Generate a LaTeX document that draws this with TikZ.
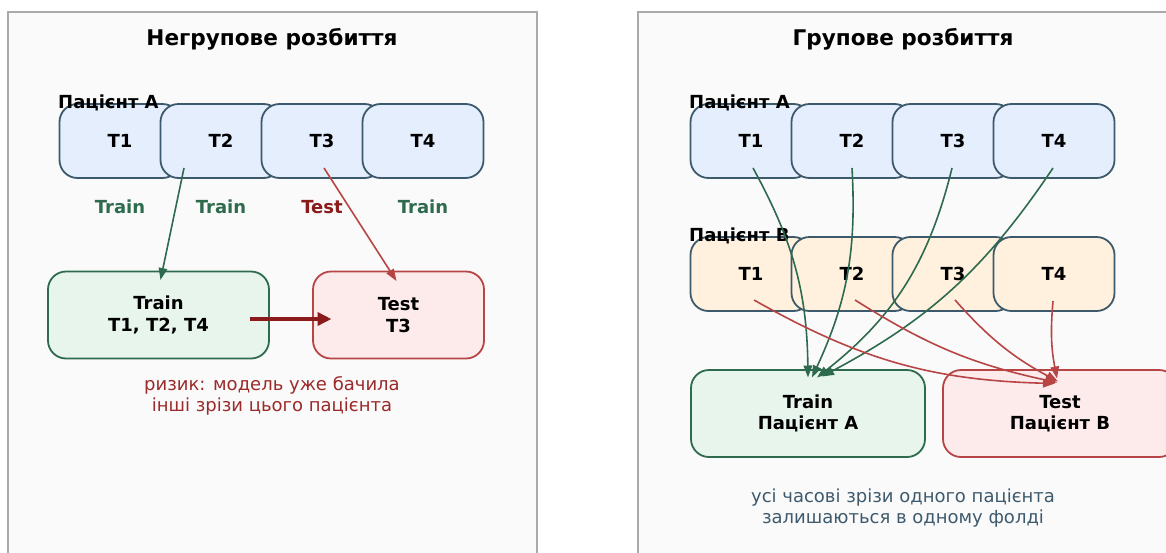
\documentclass[tikz,border=0pt]{standalone}
\usepackage{fontspec}
\setmainfont{DejaVu Sans}
\usetikzlibrary{arrows.meta,calc}

\definecolor{panelgray}{HTML}{AAAAAA}
\definecolor{panelbg}{HTML}{FAFAFA}
\definecolor{slate}{HTML}{3D5A6C}
\definecolor{bluefill}{HTML}{E4EEFD}
\definecolor{orangefill}{HTML}{FFF1DE}
\definecolor{greenline}{HTML}{2E6B4E}
\definecolor{greenfill}{HTML}{E8F5EC}
\definecolor{redline}{HTML}{B84545}
\definecolor{redfill}{HTML}{FDEAEA}
\definecolor{darkred}{HTML}{8B1A1A}
\definecolor{notered}{HTML}{9B2A2A}
\definecolor{noteslate}{HTML}{3E5A6C}

\tikzset{
  panel/.style={draw=panelgray, line width=2pt, fill=panelbg},
  heading/.style={font=\bfseries\fontsize{21.6}{25}\selectfont, inner sep=0pt},
  patient/.style={font=\bfseries\fontsize{18}{21}\selectfont, inner sep=0pt, anchor=base west},
  tbox/.style={draw=slate, line width=1.8pt, rounded corners=18pt,
    minimum width=121pt, minimum height=74pt, inner sep=0pt,
    font=\bfseries\fontsize{18}{21}\selectfont},
  boxA/.style={tbox, fill=bluefill},
  boxB/.style={tbox, fill=orangefill},
  fold/.style={line width=1.8pt, rounded corners=18pt, minimum height=87pt,
    inner sep=0pt, align=center, font=\bfseries\fontsize{18}{21.5}\selectfont},
  trainbox/.style={fold, draw=greenline, fill=greenfill},
  testbox/.style={fold, draw=redline, fill=redfill},
  role/.style={font=\bfseries\fontsize{18}{21}\selectfont, inner sep=0pt},
  note/.style={font=\fontsize{18}{21.5}\selectfont, inner sep=0pt, align=center},
  garrow/.style={draw=greenline, line width=1.6pt, -{Triangle[length=12pt,width=8.5pt]}},
  rarrow/.style={draw=redline, line width=1.6pt, -{Triangle[length=12pt,width=8.5pt]}},
  bigarrow/.style={draw=darkred, line width=3.5pt, -{Triangle[length=14pt,width=13pt]}}
}

\begin{document}
\begin{tikzpicture}[x=1pt,y=-1pt]
\useasboundingbox (0,0) rectangle (1166,552);

% panel frames, running past the lower and right edges
\begin{scope}
\clip (0,0) rectangle (1166,552);
\draw[panel] (8,12) rectangle (537,570);
\draw[panel] (638,12) rectangle (1185,570);
\end{scope}

% ---------- left panel: split without groups ----------
\node[heading] (tl) at (272,39) {Негрупове розбиття};

\node[boxA] (l1) at (120,141) {T1};
\node[boxA] (l2) at (221,141) {T2};
\node[boxA] (l3) at (322,141) {T3};
\node[boxA] (l4) at (423,141) {T4};
\node[patient] (lpa) at (58,108) {Пацієнт А};

\node[role, text=greenline] (r1) at (120,207) {Train};
\node[role, text=greenline] (r2) at (221,207) {Train};
\node[role, text=darkred]   (r3) at (322,207) {Test};
\node[role, text=greenline] (r4) at (423,207) {Train};

\node[trainbox, minimum width=221pt] (ltrain) at (158.5,315) {Train\\T1, T2, T4};
\node[testbox, minimum width=171pt] (ltest) at (398.5,315) {Test\\T3};

\draw[garrow] ([shift={(-37,27)}]l2.center) -- ([shift={(2,-35)}]ltrain.center);
\draw[rarrow] ([shift={(2,27)}]l3.center) -- ([shift={(-2,-34)}]ltest.center);
\draw[bigarrow] ([shift={(91,4)}]ltrain.center) -- ([shift={(-67,4)}]ltest.center);

\node[note, text=notered] (lnote) at (272,396) {ризик: модель уже бачила\\інші зрізи цього пацієнта};

% ---------- right panel: split by groups ----------
\node[heading] (tr) at (903,39) {Групове розбиття};

\node[boxA] (a1) at (751,141) {T1};
\node[boxA] (a2) at (852,141) {T2};
\node[boxA] (a3) at (953,141) {T3};
\node[boxA] (a4) at (1054,141) {T4};
\node[patient] (rpa) at (689,108) {Пацієнт А};

\node[boxB] (b1) at (751,274) {T1};
\node[boxB] (b2) at (852,274) {T2};
\node[boxB] (b3) at (953,274) {T3};
\node[boxB] (b4) at (1054,274) {T4};
\node[patient] (rpb) at (689,241) {Пацієнт В};

\node[trainbox, minimum width=234pt] (rtrain) at (808,413.5) {Train\\Пацієнт А};
\node[testbox, minimum width=234pt] (rtest) at (1060,413.5) {Test\\Пацієнт В};

\draw[garrow] ([shift={(2,27)}]a1.center) to[bend left=14] ([shift={(0,-36)}]rtrain.center);
\draw[garrow] ([shift={(0,27)}]a2.center) to[bend left=14] ([shift={(4,-36)}]rtrain.center);
\draw[garrow] ([shift={(-1,27)}]a3.center) to[bend left=19] ([shift={(9,-36)}]rtrain.center);
\draw[garrow] ([shift={(-1,27)}]a4.center) to[bend left=14] ([shift={(14,-37)}]rtrain.center);

\draw[rarrow] ([shift={(3,26)}]b1.center) to[bend right=14] ([shift={(-5,-30)}]rtest.center);
\draw[rarrow] ([shift={(3,26)}]b2.center) to[bend right=10] ([shift={(-3,-31)}]rtest.center);
\draw[rarrow] ([shift={(2,26)}]b3.center) to[bend right=10] ([shift={(-2,-32)}]rtest.center);
\draw[rarrow] ([shift={(-1,27)}]b4.center) to[bend right=8] ([shift={(-3,-35)}]rtest.center);

\node[note, text=noteslate] (rnote) at (903,508) {усі часові зрізи одного пацієнта\\залишаються в одному фолді};
\end{tikzpicture}
\end{document}
